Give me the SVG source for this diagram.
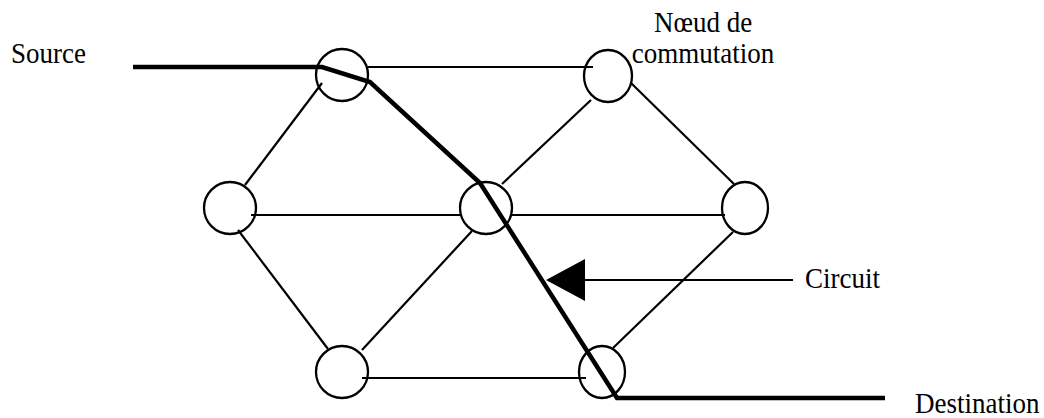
<svg xmlns="http://www.w3.org/2000/svg" width="1044" height="418" viewBox="0 0 1044 418">
<style>
.node{fill:none;stroke:#000;stroke-width:2.3}
.link{fill:none;stroke:#000;stroke-width:2.2}
.path{fill:none;stroke:#000;stroke-width:4.5;stroke-linejoin:miter}
.lbl{font-family:"Liberation Serif","Times New Roman",serif;font-size:27px;fill:#000}
</style>
<rect width="1044" height="418" fill="#fff"/>
<g id="connectors">
<line class="link" x1="368" y1="67" x2="593" y2="67"/>
<line class="link" x1="322" y1="83" x2="245" y2="185"/>
<line class="link" x1="591" y1="100" x2="502" y2="184"/>
<line class="link" x1="631" y1="83" x2="734" y2="184"/>
<line class="link" x1="251" y1="215" x2="461" y2="215"/>
<line class="link" x1="512" y1="215" x2="725" y2="215"/>
<line class="link" x1="238" y1="230" x2="328" y2="349"/>
<line class="link" x1="472" y1="231" x2="362" y2="350"/>
<line class="link" x1="733" y1="232" x2="613" y2="348"/>
<line class="link" x1="362" y1="378" x2="586" y2="378"/>
<polyline class="path" points="133,67 322,67 370,82 480,183 617,398 885,398"/>
<line class="link" x1="793" y1="280" x2="580" y2="280"/>
<polygon points="546,280 585,259 585,301" fill="#000"/>
</g>
<g id="n1"><ellipse class="node" cx="342" cy="75" rx="26" ry="26"/></g>
<g id="n2"><ellipse class="node" cx="608" cy="76" rx="24" ry="26"/></g>
<g id="n3"><ellipse class="node" cx="230" cy="208" rx="26" ry="26"/></g>
<g id="n4"><ellipse class="node" cx="486" cy="208" rx="26" ry="26"/></g>
<g id="n5"><ellipse class="node" cx="745" cy="208" rx="23" ry="26"/></g>
<g id="n6"><ellipse class="node" cx="342" cy="372" rx="26" ry="26"/></g>
<g id="n7"><ellipse class="node" cx="602" cy="372" rx="23" ry="26"/></g>
<g id="labels">
<text class="lbl" transform="translate(11,63) scale(1,1.1)">Source</text>
<text class="lbl" transform="translate(703,32) scale(1,1.1)" text-anchor="middle">Nœud de</text>
<text class="lbl" transform="translate(703,63) scale(1,1.1)" text-anchor="middle">commutation</text>
<text class="lbl" transform="translate(805,288) scale(1,1.1)">Circuit</text>
<text class="lbl" transform="translate(915,413) scale(1,1.1)">Destination</text>
</g>
</svg>
